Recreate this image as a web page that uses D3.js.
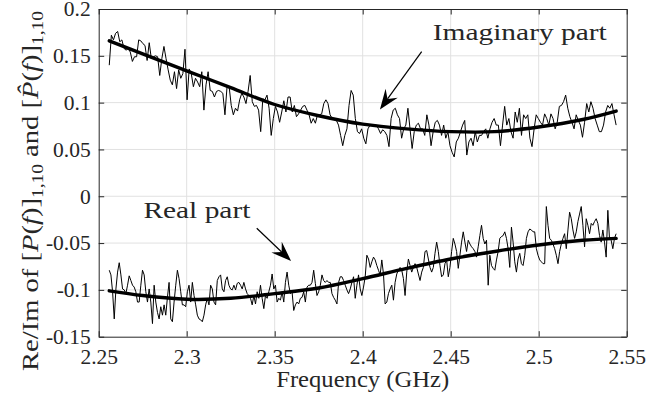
<!DOCTYPE html>
<html>
<head>
<meta charset="utf-8">
<script src="https://cdn.jsdelivr.net/npm/d3@7/dist/d3.min.js"></script>
<style>
  html, body { margin: 0; padding: 0; background: #fff; }
  svg { display: block; }
  text { font-family: "Liberation Serif", "Times New Roman", serif; fill: #262626; }
</style>
</head>
<body>
<svg id="chart" width="667" height="403"></svg>
<script>
// ---- data -----------------------------------------------------------
const xTicks = [2.25, 2.3, 2.35, 2.4, 2.45, 2.5, 2.55];
const xTickLabels = ["2.25", "2.3", "2.35", "2.4", "2.45", "2.5", "2.55"];
const yTicks = [-0.15, -0.1, -0.05, 0, 0.05, 0.1, 0.15, 0.2];
const yTickLabels = ["-0.15", "-0.1", "-0.05", "0", "0.05", "0.1", "0.15", "0.2"];

// measured sweep limits (GHz); samples are evenly spaced between them
const sweepStart = 2.256;
const sweepEnd = 2.544;

// measured imaginary part of [P(f)]_{1,10}
const imagMeasured = [
  0.140,0.172,0.167,0.174,0.176,0.165,0.167,0.158,0.156,0.158,
  0.154,0.144,0.149,0.149,0.167,0.166,0.163,0.161,0.145,0.164,
  0.147,0.149,0.150,0.149,0.129,0.147,0.160,0.147,0.135,0.124,
  0.119,0.133,0.115,0.135,0.126,0.131,0.157,0.103,0.136,0.131,
  0.117,0.126,0.122,0.117,0.133,0.092,0.119,0.133,0.113,0.112,
  0.106,0.112,0.113,0.112,0.110,0.087,0.117,0.117,0.097,0.087,
  0.094,0.091,0.103,0.110,0.106,0.099,0.112,0.129,0.101,0.096,
  0.097,0.092,0.069,0.104,0.103,
  0.108,0.094,0.065,0.083,0.096,0.090,0.079,0.090,0.102,0.090,
  0.106,0.106,0.090,0.097,0.085,0.088,0.092,0.096,0.097,0.092,
  0.087,0.078,0.083,0.078,0.087,0.087,0.088,0.099,0.103,0.099,
  0.087,0.083,0.083,0.081,0.076,0.065,0.054,0.065,0.072,0.097,
  0.113,0.108,0.083,0.069,0.067,0.072,0.062,0.056,0.072,0.076,
  0.076,0.076,0.076,0.072,0.067,0.071,0.069,0.065,0.053,0.083,
  0.092,0.094,0.087,0.083,0.062,0.072,0.076,0.094,0.072,0.051,
  0.069,0.076,0.078,0.072,0.072,0.065,0.087,0.076,0.054,0.069,
  0.079,0.081,0.076,0.065,
  0.076,0.062,0.069,0.054,0.047,0.042,0.058,0.062,0.069,0.076,
  0.081,0.044,0.058,0.062,0.054,0.069,0.058,0.065,0.065,0.069,
  0.072,0.062,0.072,0.079,0.083,0.076,0.076,0.054,0.076,0.096,
  0.076,0.083,0.069,0.062,0.090,0.079,0.094,0.065,0.087,0.083,
  0.087,0.062,0.053,0.072,0.087,0.083,0.079,0.076,0.088,0.083,
  0.076,0.088,0.083,0.072,0.079,0.096,0.097,0.101,0.108,0.094,
  0.085,0.079,0.072,0.087,0.081,0.076,0.063,0.079,0.099,0.090,
  0.101,0.094,0.083,0.076,0.069,0.069,0.076,0.090,0.097,0.094,
  0.099,0.087,0.076
];

// measured real part of [P(f)]_{1,10}
const realMeasured = [
  -0.079,-0.084,-0.102,-0.131,-0.099,-0.081,-0.071,-0.084,-0.099,-0.100,
  -0.104,-0.095,-0.085,-0.090,-0.095,-0.097,-0.102,-0.113,-0.113,-0.095,
  -0.079,-0.084,-0.102,-0.113,-0.099,-0.113,-0.136,-0.095,-0.113,-0.124,
  -0.131,-0.118,-0.127,-0.116,-0.127,-0.108,-0.092,-0.131,-0.134,-0.113,
  -0.095,-0.079,-0.088,-0.102,-0.116,-0.116,-0.118,-0.102,-0.095,-0.113,
  -0.092,-0.106,-0.116,-0.127,-0.131,-0.132,-0.134,-0.127,-0.116,-0.109,
  -0.116,-0.095,-0.099,-0.113,-0.116,-0.090,-0.086,-0.084,-0.099,-0.102,
  -0.090,-0.086,-0.095,-0.099,-0.100,-0.095,-0.100,-0.093,-0.092,-0.095,
  -0.099,-0.092,-0.099,-0.104,-0.106,-0.109,-0.116,-0.106,-0.115,-0.102,
  -0.109,-0.095,-0.109,-0.120,-0.106,-0.109,-0.102,-0.095,-0.083,-0.099,
  -0.095,-0.113,-0.109,
  -0.111,-0.102,-0.113,-0.092,-0.081,-0.095,-0.104,-0.102,-0.122,-0.116,
  -0.113,-0.115,-0.109,-0.108,-0.102,-0.113,-0.097,-0.095,-0.095,-0.092,
  -0.079,-0.093,-0.106,-0.102,-0.095,-0.084,-0.090,-0.092,-0.090,-0.092,
  -0.092,-0.104,-0.108,-0.111,-0.115,-0.092,-0.086,-0.086,-0.090,-0.095,
  -0.100,-0.104,-0.099,-0.092,-0.086,-0.109,-0.095,-0.084,-0.099,-0.106,
  -0.097,-0.086,-0.063,-0.067,-0.076,-0.070,-0.065,-0.068,-0.074,-0.079,
  -0.084,-0.068,-0.083,-0.115,-0.113,-0.104,-0.099,-0.095,-0.111,-0.092,
  -0.083,-0.079,-0.076,-0.079,-0.088,-0.106,-0.081,-0.067,-0.074,-0.081,
  -0.076,-0.072,-0.076,-0.083,-0.090,-0.081,-0.076,-0.059,-0.058,-0.067,
  -0.076,-0.081,-0.076,-0.061,-0.049,-0.059,-0.074,-0.086,-0.084,-0.072,
  -0.068,-0.086,
  -0.076,-0.059,-0.045,-0.051,-0.059,-0.077,-0.063,-0.049,-0.038,-0.049,
  -0.059,-0.047,-0.051,-0.054,-0.056,-0.059,-0.065,-0.054,-0.042,-0.031,
  -0.045,-0.051,-0.047,-0.095,-0.063,-0.074,-0.077,-0.079,-0.068,-0.059,
  -0.045,-0.043,-0.042,-0.038,-0.045,-0.056,-0.076,-0.033,-0.049,-0.070,
  -0.081,-0.067,-0.061,-0.072,-0.074,-0.063,-0.045,-0.038,-0.035,-0.036,
  -0.038,-0.038,-0.056,-0.063,-0.068,-0.070,-0.072,-0.072,-0.011,-0.031,
  -0.045,-0.047,-0.051,-0.056,-0.063,-0.072,-0.059,-0.051,-0.045,-0.040,
  -0.056,-0.036,-0.017,-0.024,-0.036,-0.045,-0.038,-0.027,-0.019,-0.011,
  -0.031,-0.054,-0.024,-0.031,-0.040,-0.029,-0.031,-0.027,-0.024,-0.029,
  -0.042,-0.049,-0.036,-0.049,-0.065,-0.015,-0.045,-0.047,-0.056,-0.045,
  -0.040
];

// fitted model [P^(f)]_{1,10}, given at these frequencies
const fitFreq = [2.256, 2.275, 2.3, 2.325, 2.35, 2.375, 2.4, 2.425, 2.45, 2.475, 2.5, 2.525, 2.544];
const imagFit = [0.166, 0.152, 0.134, 0.116, 0.098, 0.086, 0.077, 0.072, 0.069, 0.069, 0.074, 0.082, 0.091];
const realFit = [-0.101, -0.106, -0.110, -0.109, -0.104, -0.098, -0.088, -0.077, -0.067, -0.059, -0.052, -0.047, -0.045];

// annotations: label anchor and arrow (tail -> tip), in data units
const annotations = [
  { text: "Imaginary part", x: 2.4398, y: 0.1664, width: 174,
    tail: [2.4335, 0.1544], tip: [2.4098, 0.0927] },
  { text: "Real part", x: 2.2754, y: -0.0235, width: 107,
    tail: [2.3398, -0.0342], tip: [2.3593, -0.0691] }
];

// ---- layout ---------------------------------------------------------
const plot = { left: 98.7, right: 626.7, top: 9, bottom: 336.7 };
const axisColor = "#262626";
const gridColor = "#e1e1e1";
const tickLen = 5.5;

const svg = d3.select("#chart");

const x = d3.scaleLinear().domain([2.25, 2.55]).range([plot.left, plot.right]);
const y = d3.scaleLinear().domain([-0.15, 0.2]).range([plot.bottom, plot.top]);

const sweep = n => d3.range(n).map(i => sweepStart + i * (sweepEnd - sweepStart) / (n - 1));
const imagPts = sweep(imagMeasured.length).map((f, i) => [f, imagMeasured[i]]);
const realPts = sweep(realMeasured.length).map((f, i) => [f, realMeasured[i]]);
const imagFitPts = fitFreq.map((f, i) => [f, imagFit[i]]);
const realFitPts = fitFreq.map((f, i) => [f, realFit[i]]);

// grid
const grid = svg.append("g");
grid.selectAll("line.gx").data(xTicks.slice(1, -1)).join("line")
  .attr("x1", d => x(d)).attr("x2", d => x(d))
  .attr("y1", plot.top).attr("y2", plot.bottom)
  .attr("stroke", gridColor).attr("stroke-width", 1);
grid.selectAll("line.gy").data(yTicks.slice(1, -1)).join("line")
  .attr("y1", d => y(d)).attr("y2", d => y(d))
  .attr("x1", plot.left).attr("x2", plot.right)
  .attr("stroke", gridColor).attr("stroke-width", 1);

// lines
const line = d3.line().x(d => x(d[0])).y(d => y(d[1]));
const smooth = d3.line().x(d => x(d[0])).y(d => y(d[1])).curve(d3.curveCatmullRom.alpha(0.5));

const lines = svg.append("g");
[imagPts, realPts].forEach(pts => {
  lines.append("path").attr("d", line(pts))
    .attr("fill", "none").attr("stroke", "#000").attr("stroke-width", 1)
    .attr("stroke-linejoin", "round");
});
[imagFitPts, realFitPts].forEach(pts => {
  lines.append("path").attr("d", smooth(pts))
    .attr("fill", "none").attr("stroke", "#000").attr("stroke-width", 3.4)
    .attr("stroke-linecap", "round");
});

// axes (bottom/left with labels, top/right mirrored ticks), ticks inside
const xAxisB = d3.axisBottom(x).tickValues(xTicks).tickFormat((d, i) => xTickLabels[i])
  .tickSizeInner(-tickLen).tickSizeOuter(0).tickPadding(12);
const xAxisT = d3.axisTop(x).tickValues(xTicks).tickFormat("")
  .tickSizeInner(-tickLen).tickSizeOuter(0);
const yAxisL = d3.axisLeft(y).tickValues(yTicks).tickFormat((d, i) => yTickLabels[i])
  .tickSizeInner(-tickLen).tickSizeOuter(0).tickPadding(8);
const yAxisR = d3.axisRight(y).tickValues(yTicks).tickFormat("")
  .tickSizeInner(-tickLen).tickSizeOuter(0);

function style(g) {
  g.selectAll("path.domain").attr("stroke", axisColor).attr("stroke-width", 1);
  g.selectAll(".tick line").attr("stroke", axisColor).attr("stroke-width", 1);
  g.selectAll(".tick text").attr("fill", axisColor)
    .style("font-family", '"Liberation Serif", "Times New Roman", serif')
    .style("font-size", "21.5px");
}
svg.append("g").attr("transform", `translate(0,${plot.bottom})`).call(xAxisB).call(style);
svg.append("g").attr("transform", `translate(0,${plot.top})`).call(xAxisT).call(style);
svg.append("g").attr("transform", `translate(${plot.left},0)`).call(yAxisL).call(style);
svg.append("g").attr("transform", `translate(${plot.right},0)`).call(yAxisR).call(style);

// axis titles
svg.append("text")
  .attr("x", (plot.left + plot.right) / 2).attr("y", 387)
  .attr("text-anchor", "middle")
  .attr("textLength", 173).attr("lengthAdjust", "spacingAndGlyphs")
  .style("font-size", "23px")
  .text("Frequency (GHz)");

const yl = svg.append("text")
  .attr("transform", "translate(38,191) rotate(-90)")
  .attr("text-anchor", "middle")
  .attr("textLength", 360).attr("lengthAdjust", "spacingAndGlyphs")
  .style("font-size", "23.5px");
yl.append("tspan").text("Re/Im of [");
yl.append("tspan").attr("font-style", "italic").text("P");
yl.append("tspan").text("(");
yl.append("tspan").attr("font-style", "italic").text("f");
yl.append("tspan").text(")]");
yl.append("tspan").attr("font-size", "16px").attr("dy", 5).text("1,10");
yl.append("tspan").attr("dy", -5).text(" and [");
yl.append("tspan").attr("font-style", "italic").text("P\u0302");
yl.append("tspan").text("(");
yl.append("tspan").attr("font-style", "italic").text("f");
yl.append("tspan").text(")]");
yl.append("tspan").attr("font-size", "16px").attr("dy", 5).text("1,10");

// annotations with filled arrowheads
const ann = svg.append("g");
annotations.forEach(a => {
  ann.append("text")
    .attr("x", x(a.x)).attr("y", y(a.y))
    .attr("textLength", a.width).attr("lengthAdjust", "spacingAndGlyphs")
    .style("font-size", "24px").attr("fill", "#000")
    .text(a.text);
  const x0 = x(a.tail[0]), y0 = y(a.tail[1]);
  const x1 = x(a.tip[0]), y1 = y(a.tip[1]);
  const dx = x1 - x0, dy = y1 - y0, len = Math.hypot(dx, dy);
  const ux = dx / len, uy = dy / len, px = -uy, py = ux;
  const headLen = 20, headW = 7.5, notch = 13;
  ann.append("line")
    .attr("x1", x0).attr("y1", y0)
    .attr("x2", x1 - ux * notch).attr("y2", y1 - uy * notch)
    .attr("stroke", "#000").attr("stroke-width", 1.2);
  const bx = x1 - ux * headLen, by = y1 - uy * headLen;
  const nx = x1 - ux * notch, ny = y1 - uy * notch;
  ann.append("path")
    .attr("d", `M${x1},${y1}L${bx + px * headW},${by + py * headW}L${nx},${ny}L${bx - px * headW},${by - py * headW}Z`)
    .attr("fill", "#000");
});
</script>
</body>
</html>
